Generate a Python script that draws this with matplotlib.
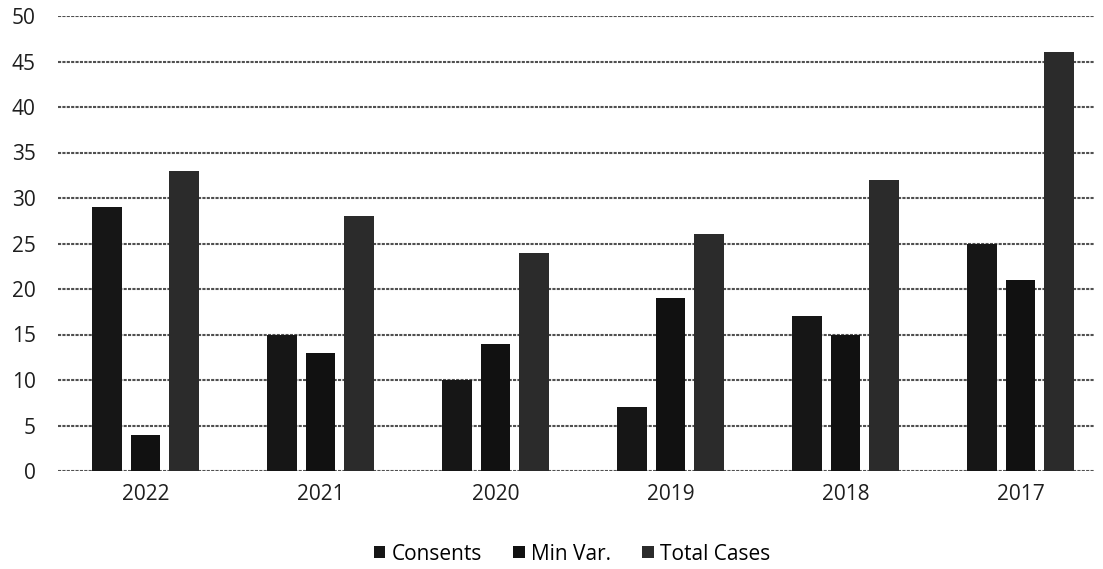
import numpy as np
import matplotlib.pyplot as plt

# Yearly counts
years = ["2022", "2021", "2020", "2019", "2018", "2017"]
consents = [29, 15, 10, 7, 17, 25]
min_var = [4, 13, 14, 19, 15, 21]
total_cases = [33, 28, 24, 26, 32, 46]

series = [("Consents", consents, "#161616"),
          ("Min Var.", min_var, "#111111"),
          ("Total Cases", total_cases, "#2b2b2b")]

fig = plt.figure(figsize=(11.03, 5.69), dpi=100)
ax = fig.add_axes([58 / 1103, 98 / 569, 1036 / 1103, 455 / 569])

x = np.arange(len(years))
width = 0.17
step = 0.222
for i, (name, vals, col) in enumerate(series):
    ax.bar(x + (i - 1) * step, vals, width, color=col, label=name, zorder=3)

ax.set_xlim(-0.5, -0.5 + 1036 / 175)
ax.set_ylim(0, 50)
ax.set_yticks(range(0, 51, 5))
ax.set_xticks(x)
ax.set_xticklabels(years)
ax.yaxis.grid(True, color="#505050", linewidth=1.5, linestyle=(0, (1.5, 0.6)), zorder=0)
ax.tick_params(length=0, labelsize=15, labelcolor="#1e1e1e")
ax.tick_params(axis="y", pad=16)
ax.tick_params(axis="x", pad=9)
for s in ax.spines.values():
    s.set_visible(False)

for lab in ax.get_xticklabels() + ax.get_yticklabels():
    lab.set_family("Open Sans")

fig.legend(loc="center", bbox_to_anchor=(572 / 1103, 1 - 554 / 569), ncol=3,
           frameon=False, handlelength=0.55, handleheight=0.55, handletextpad=0.3,
           columnspacing=1.5, prop={"family": "Open Sans", "size": 15})

fig.savefig("out.png", dpi=100)
